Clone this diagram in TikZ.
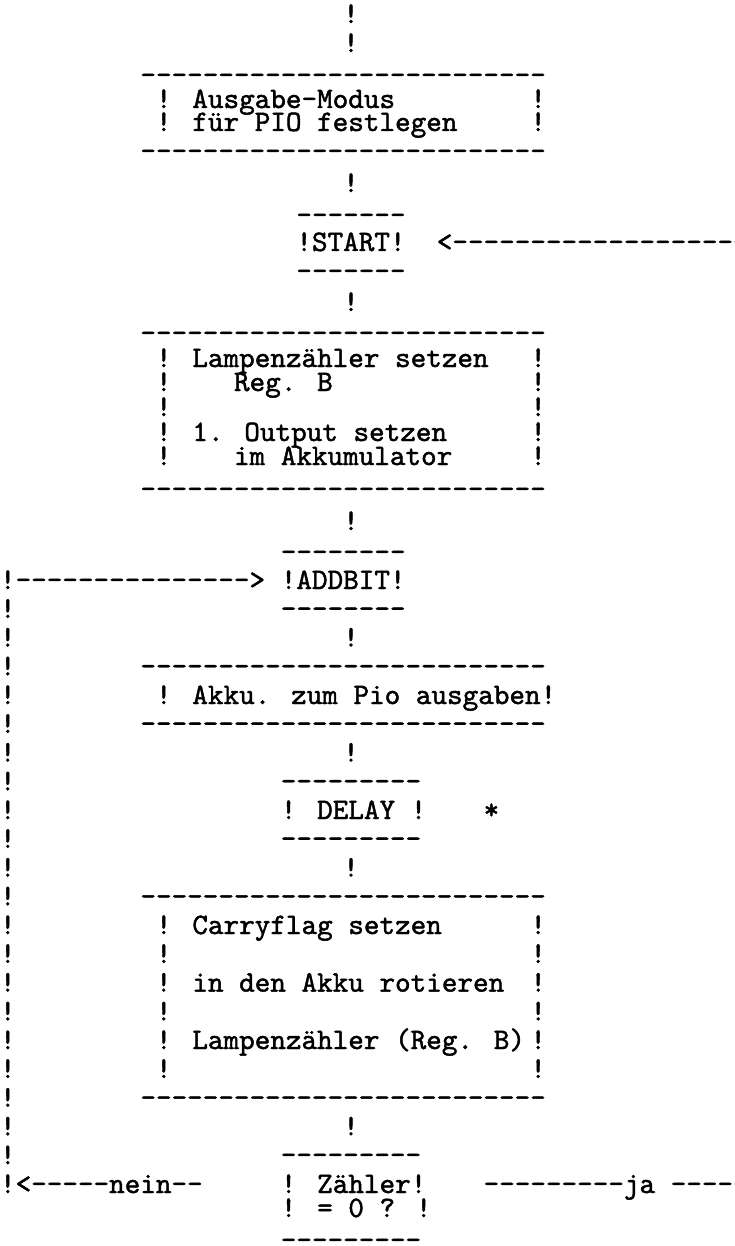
\documentclass[tikz,border=0pt]{standalone}
\usepackage{tikz}
\usetikzlibrary{positioning}
\font\ttyfont="[lmmono10-regular]:embolden=1.5" at 29.7pt
\tikzset{
  tty/.style={font=\ttyfont, inner sep=0pt, outer sep=0pt, anchor=base west},
}
\newcommand{\dashes}[1]{\foreach \k in {1,...,#1}{-}}

\begin{document}
\begin{tikzpicture}[x=15.6pt, y=-1pt]
  \path[use as bounding box] (0pt,0pt) rectangle (735pt,-1246pt);
  % entry
  \node[tty] (in1) at (22,23) {!};
  \node[tty] (in2) at (22,52) {!};
  % Ausgabe-Modus
  \node[tty] (ausgTop) at (9,84) {\dashes{26}};
  \node[tty] (ausgA) at (10,108) {! Ausgabe-Modus};
  \node[tty] (ausgAr) at (34,108) {!};
  \node[tty] (ausgB) at (10,131) {! für PIO festlegen};
  \node[tty] (ausgBr) at (34,131) {!};
  \node[tty] (ausgBot) at (9,160) {\dashes{26}};
  \node[tty] (c1) at (22,192) {!};
  % START
  \node[tty] (startTop) at (19,224) {\dashes{7}};
  \node[tty] (start) at (19,251) {!START!};
  \node[tty] (back) at (28,251) {<\dashes{20}};
  \node[tty] (startBot) at (19,280) {\dashes{7}};
  \node[tty] (c2) at (22,311) {!};
  % Lampenzaehler
  \node[tty] (lampTop) at (9,342) {\dashes{26}};
  \node[tty] (lampA) at (10,367) {! Lampenzähler setzen};
  \node[tty] (lampAr) at (34,367) {!};
  \node[tty] (lampB) at (10,391) {!};
  \node[tty] (lampBt) at (15,391) {Reg. B};
  \node[tty] (lampBr) at (34,391) {!};
  \node[tty] (lampC) at (10,416) {!};
  \node[tty] (lampCr) at (34,416) {!};
  \node[tty] (lampD) at (10,441) {! 1. Output setzen};
  \node[tty] (lampDr) at (34,441) {!};
  \node[tty] (lampE) at (10,465) {!};
  \node[tty] (lampEt) at (15,465) {im Akkumulator};
  \node[tty] (lampEr) at (34,465) {!};
  \node[tty] (lampBot) at (9,498) {\dashes{26}};
  \node[tty] (c3) at (22,530) {!};
  % ADDBIT
  \node[tty] (addTop) at (18,561) {\dashes{8}};
  \node[tty] (loopIn) at (0,589) {!\dashes{15}>};
  \node[tty] (addbit) at (18,589) {!ADDBIT!};
  \node[tty] (addBot) at (18,617.8) {\dashes{8}};
  \node[tty] (c4) at (22,646.5) {!};
  % Akku
  \node[tty] (akkuTop) at (9,675.3) {\dashes{26}};
  \node[tty] (akku) at (10,704) {! Akku. zum Pio ausgaben!};
  \node[tty] (akkuBot) at (9,732.8) {\dashes{26}};
  \node[tty] (c5) at (22,761.6) {!};
  % DELAY
  \node[tty] (delTop) at (18,790.3) {\dashes{9}};
  \node[tty] (delay) at (18,819) {! DELAY !};
  \node[tty] (star) at (31,819) {*};
  \node[tty] (delBot) at (18,847.8) {\dashes{9}};
  \node[tty] (c6) at (22,876.6) {!};
  % Carryflag
  \node[tty] (carTop) at (9,905.4) {\dashes{26}};
  \node[tty] (carA) at (10,934) {! Carryflag setzen};
  \node[tty] (carAr) at (34,934) {!};
  \node[tty] (carB) at (10,962.9) {!};
  \node[tty] (carBr) at (34,962.9) {!};
  \node[tty] (carC) at (10,991.6) {! in den Akku rotieren};
  \node[tty] (carCr) at (34,991.6) {!};
  \node[tty] (carD) at (10,1020.4) {!};
  \node[tty] (carDr) at (34,1020.4) {!};
  \node[tty] (carE) at (10,1049) {! Lampenzähler (Reg. B)};
  \node[tty] (carEr) at (34,1049) {!};
  \node[tty] (carF) at (10,1077.9) {!};
  \node[tty] (carFr) at (34,1077.9) {!};
  \node[tty] (carBot) at (9,1106.7) {\dashes{26}};
  \node[tty] (c7) at (22,1135.4) {!};
  % Zaehler = 0 ?
  \node[tty] (zTop) at (18,1164) {\dashes{9}};
  \node[tty] (zaehler) at (18,1193) {! Zähler!};
  \node[tty] (zaehlerB) at (18,1217) {! = 0 ? !};
  \node[tty] (zBot) at (18,1249) {\dashes{9}};
  \node[tty] (nein) at (0,1193) {!<\dashes{5}nein\dashes{2}};
  \node[tty] (ja) at (31,1193) {\dashes{9}ja \dashes{6}};
  % loop back
  \foreach \n [count=\k] in {22,...,41}
    \node[tty] (loop\k) at (0,{589+(\n-21)*28.76}) {!};
\end{tikzpicture}
\end{document}
